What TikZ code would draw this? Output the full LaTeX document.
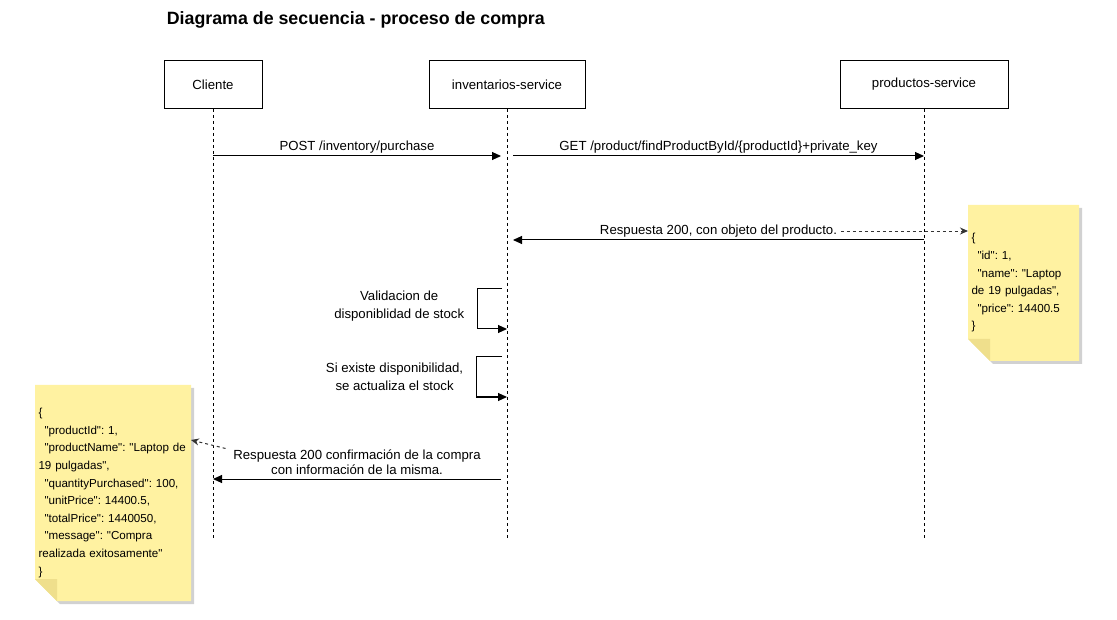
\documentclass[tikz,border=0pt]{standalone}
\usepackage{fontspec}
\setmainfont{Liberation Sans}[Ligatures=TeXOff]
\usetikzlibrary{arrows.meta,backgrounds}
\definecolor{notefill}{HTML}{FFF2A1}
\definecolor{notefold}{HTML}{EFDF8C}
\frenchspacing
\begin{document}
\begin{tikzpicture}[x=1pt,y=-1pt,line width=1pt,font=\fontsize{13.2}{15.5}\selectfont,
	actor/.style={draw, minimum height=48pt, inner sep=0pt},
	life/.style={dash pattern=on 3pt off 3pt},
	msg/.style={-{Triangle[length=9pt,width=8pt]}},
	ref/.style={dash pattern=on 3pt off 3pt, draw=black!80, -{Stealth[length=8pt,width=7pt]}},
	note/.style={anchor=north west, align=left, inner xsep=3pt, inner ysep=0pt, font=\fontsize{11.6}{17.6}\selectfont}]
		\useasboundingbox (0,0) rectangle (1117,620);
		\node[anchor=west, font=\fontsize{17.8}{20}\selectfont\bfseries] (titulo) at (163,20) {Diagrama de secuencia - proceso de compra};
		\node[actor, minimum width=98pt] (cliente) at (213,84.5) {Cliente};
		\node[actor, minimum width=156pt] (inventarios) at (507,84.5) {inventarios-service};
		\node[actor, minimum width=168pt] (productos) at (924,84.5) {productos-service};
		\coordinate (clienteFin) at (cliente.south |- 0,540);
		\coordinate (inventariosFin) at (inventarios.south |- 0,540);
		\coordinate (productosFin) at (productos.south |- 0,540);
		\draw[life] (cliente.south) -- (clienteFin);
		\draw[life] (inventarios.south) -- (inventariosFin);
		\draw[life] (productos.south) -- (productosFin);
		\node[note, text width=104pt, minimum width=110pt, minimum height=155pt] (notaProducto) at (968,205) {\{\\\hspace*{6pt}"id": 1,\\\hspace*{6pt}"name": "Laptop\\de 19 pulgadas",\\\hspace*{6pt}"price": 14400.5\\\}};
		\node[note, text width=149pt, minimum width=155pt, minimum height=215pt] (notaCompra) at (35,385) {\{\\\hspace*{6pt}"productId": 1,\\\hspace*{6pt}"productName": "Laptop de\\19 pulgadas",\\\hspace*{6pt}"quantityPurchased": 100,\\\hspace*{6pt}"unitPrice": 14400.5,\\\hspace*{6pt}"totalPrice": 1440050,\\\hspace*{6pt}"message": "Compra\\realizada exitosamente"\\\}};
		\begin{scope}[on background layer]
			\foreach \n in {notaProducto,notaCompra}{
				\fill[black!18] ([shift={(3,3)}]\n.north west) -- ([shift={(3,3)}]\n.north east) -- ([shift={(3,3)}]\n.south east) -- ([shift={(25,3)}]\n.south west) -- ([shift={(3,-19)}]\n.south west) -- cycle;
				\fill[notefill] (\n.north west) -- (\n.north east) -- (\n.south east) -- ([shift={(22,0)}]\n.south west) -- ([shift={(0,-22)}]\n.south west) -- cycle;
				\fill[notefold] ([shift={(0,-22)}]\n.south west) -- ([shift={(22,-22)}]\n.south west) -- ([shift={(22,0)}]\n.south west) -- cycle;
			}
		\end{scope}
		\coordinate (postA) at (cliente.south |- 0,156);
		\coordinate (postB) at ([xshift=-6pt]inventarios.south |- 0,156);
		\coordinate (getA) at ([xshift=6pt]inventarios.south |- 0,156);
		\coordinate (getB) at (productos.south |- 0,156);
		\coordinate (respA) at (productos.south |- 0,240);
		\coordinate (respB) at ([xshift=6pt]inventarios.south |- 0,240);
		\coordinate (confA) at ([xshift=-6pt]inventarios.south |- 0,479);
		\coordinate (confB) at (cliente.south |- 0,479);
		\draw[msg] (postA) -- node[above=-1pt] (postTxt) {POST /inventory/purchase} (postB);
		\draw[msg] (getA) -- node[above=-1pt] (getTxt) {GET /product/findProductById/\{productId\}+private\_key} (getB);
		\draw[msg] (respA) -- node[above=-1pt] (respTxt) {Respuesta 200, con objeto del producto.} (respB);
		\draw[msg] (confA) -- node[above=1pt, align=center, font=\fontsize{13.2}{15}\selectfont] (confTxt) {Respuesta 200 confirmación de la compra\\con información de la misma.} (confB);
		\draw[ref] (respTxt.east) -- (notaProducto.west |- respTxt.east);
		\draw[ref] ([shift={(-4,3)}]confTxt.north west) -- ([shift={(0,55)}]notaCompra.north east);
		\draw[msg] ([xshift=-5pt]inventarios.south |- 0,289) -| ([xshift=-30pt]inventarios.south |- 0,329) node[pos=0.75, left=9pt, yshift=3pt, align=center, font=\fontsize{13.2}{17.5}\selectfont] (validaTxt) {Validacion de\\disponiblidad de stock} -- (inventarios.south |- 0,329);
		\draw[msg] ([xshift=-5pt]inventarios.south |- 0,357) -| ([xshift=-31pt]inventarios.south |- 0,397) node[pos=0.75, left=9pt, align=center, font=\fontsize{13.2}{18}\selectfont] (stockTxt) {Si existe disponibilidad,\\se actualiza el stock} -- (inventarios.south |- 0,397);
\end{tikzpicture}
\end{document}
